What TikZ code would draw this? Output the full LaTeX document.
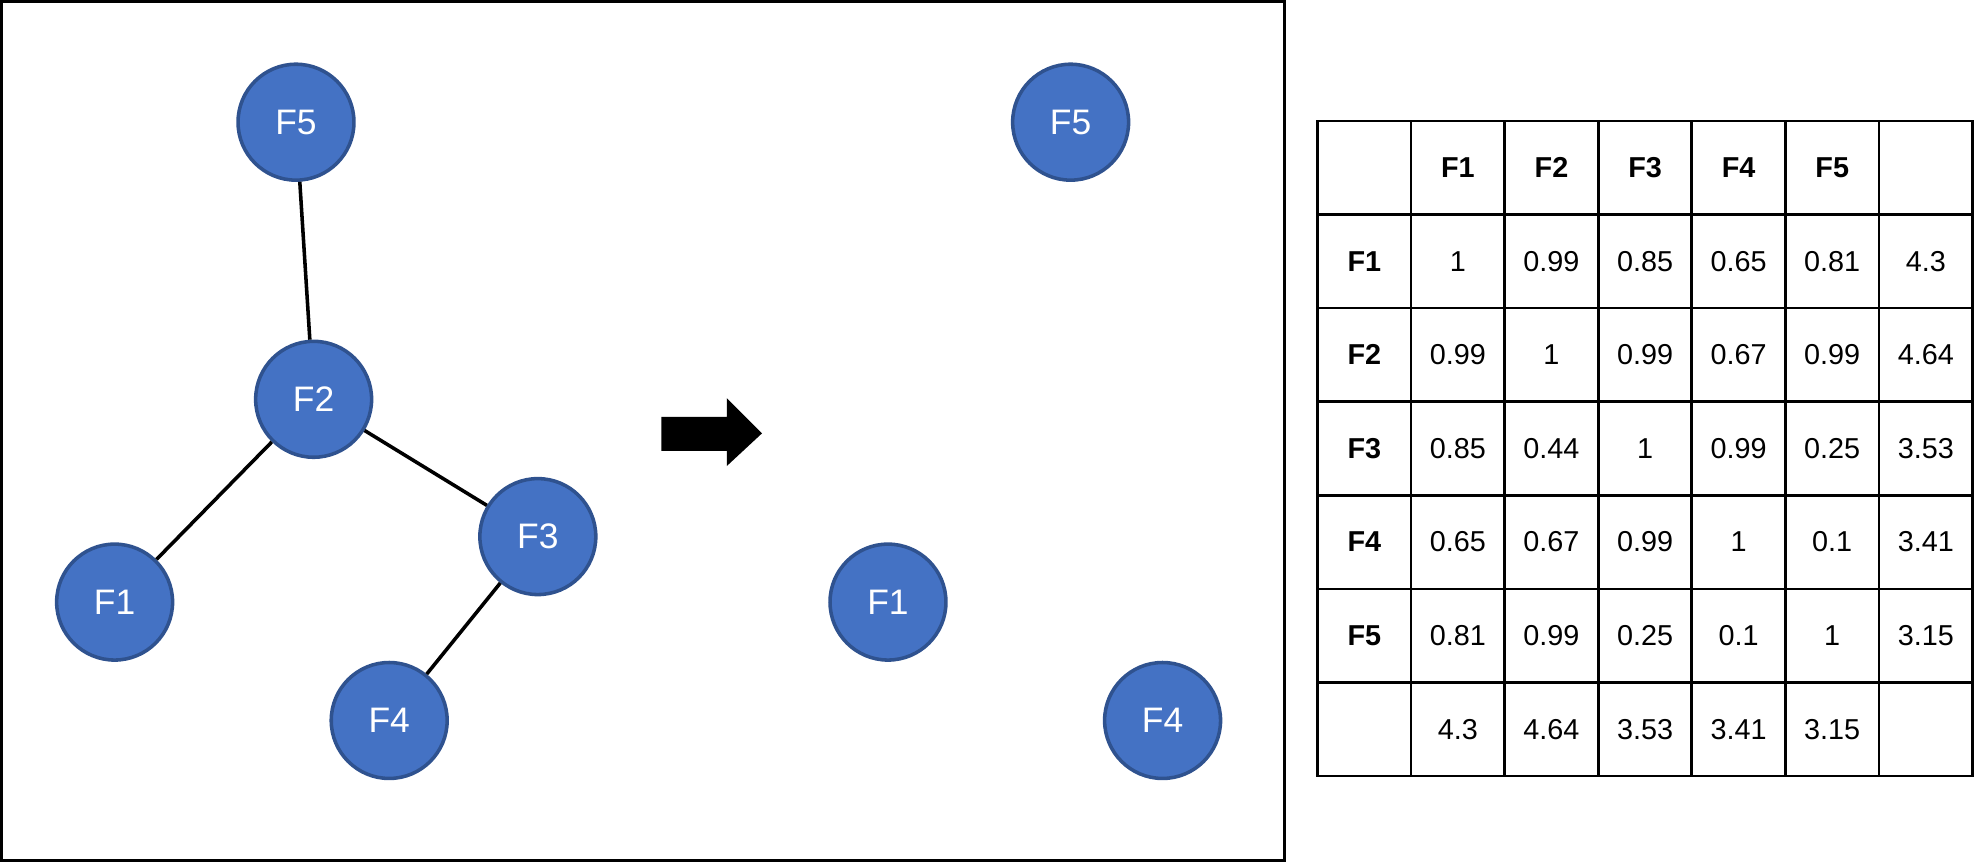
\documentclass[tikz,border=0pt]{standalone}
\usepackage{fontspec}
\setmainfont{Liberation Sans}
\usetikzlibrary{positioning}
\definecolor{myblue}{RGB}{68,114,196}
\definecolor{myedge}{RGB}{47,82,143}
\tikzset{vertex/.style={draw=myedge,fill=myblue,circle,minimum size=0.92cm,inner sep=0pt,text=white,font=\fontsize{8}{9}\selectfont}}
\tikzset{cell/.style={draw,rectangle,minimum size=0.743cm,inner sep=0pt,font=\fontsize{6.5}{7}\selectfont}}
\begin{document}
\begin{tikzpicture}[x=0.01cm,y=-0.01cm,thick]
\useasboundingbox (0,0) rectangle (1568,684);
\draw[semithick] (1,1) rectangle (1020,683);
% left graph
\node[vertex] (f5) at (235,97) {F5};
\node[vertex] (f2) at (249,317) {F2};
\node[vertex] (f3) at (427,426) {F3};
\node[vertex] (f1) at (91,478) {F1};
\node[vertex] (f4) at (309,572) {F4};
\draw (f5) -- (f2);
\draw (f2) -- (f1);
\draw (f2) -- (f3);
\draw (f3) -- (f4);
% arrow
\fill (525,331) -- (577,331) -- (577,316) -- (605,344) -- (577,370) -- (577,358) -- (525,358) -- cycle;
% right graph
\node[vertex] (g5) at (850,97) {F5};
\node[vertex] (g1) at (705,478) {F1};
\node[vertex] (g4) at (923,572) {F4};
% table
\foreach \Row [count=\r from 0] in {
  {{},\textbf{F1},\textbf{F2},\textbf{F3},\textbf{F4},\textbf{F5},{}},
  {\textbf{F1},1,0.99,0.85,0.65,0.81,4.3},
  {\textbf{F2},0.99,1,0.99,0.67,0.99,4.64},
  {\textbf{F3},0.85,0.44,1,0.99,0.25,3.53},
  {\textbf{F4},0.65,0.67,0.99,1,0.1,3.41},
  {\textbf{F5},0.81,0.99,0.25,0.1,1,3.15},
  {{},4.3,4.64,3.53,3.41,3.15,{}}}
  \foreach \Val [count=\c from 0] in \Row
    \node[cell,semithick] (t\r\c) at (1083.15+74.3*\c,133.15+74.3*\r) {\Val};
\end{tikzpicture}
\end{document}
